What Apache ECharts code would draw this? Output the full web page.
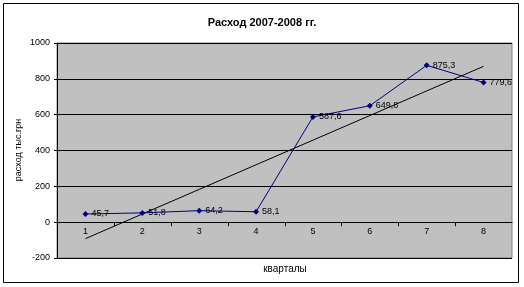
<!DOCTYPE html>
<html><head><meta charset="utf-8">
<script src="https://cdn.jsdelivr.net/npm/echarts@6/dist/echarts.min.js"></script>
<style>html,body{margin:0;padding:0;background:#fff}#c{width:524px;height:287px}</style>
</head><body><div id="c"></div>
<script>
const categories = ['1','2','3','4','5','6','7','8'];
const values = [45.7, 51.8, 64.2, 58.1, 587.6, 649.8, 875.3, 779.6];
const yTicks = [-200, 0, 200, 400, 600, 800, 1000];
const titleText = 'Расход 2007-2008 гг.';
const xName = 'кварталы';
const yName = 'расход тыс.грн';

// linear trendline (least squares) from the data
const n = values.length;
const xs = values.map((_, i) => i + 1);
const mx = xs.reduce((a, b) => a + b, 0) / n;
const my = values.reduce((a, b) => a + b, 0) / n;
let sxy = 0, sxx = 0;
for (let i = 0; i < n; i++) { sxy += (xs[i] - mx) * (values[i] - my); sxx += (xs[i] - mx) ** 2; }
const slope = sxy / sxx, icpt = my - slope * mx;
const trend = xs.map(x => +(icpt + slope * x).toFixed(2));

const font = '"Liberation Sans", Arial, sans-serif';
const chart = echarts.init(document.getElementById('c'));
chart.setOption({
  animation: false,
  title: { text: titleText, left: 'center', top: 12, textStyle: { fontFamily: font, fontSize: 11, fontWeight: 'bold', color: '#000' } },
  grid: { left: 57, right: 12, top: 43, bottom: 29, show: true, backgroundColor: '#C0C0C0', borderColor: '#808080', borderWidth: 1 },
  xAxis: {
    type: 'category', data: categories, boundaryGap: true,
    axisLine: { onZero: true, lineStyle: { color: '#000', width: 1 } },
    axisTick: { show: false },
    axisLabel: { show: false },
    splitLine: { show: false }
  },
  yAxis: {
    type: 'value', min: yTicks[0], max: yTicks[yTicks.length - 1], interval: 200,
    axisLine: { show: true, lineStyle: { color: '#000' } },
    axisTick: { show: true, length: 3, lineStyle: { color: '#000' } },
    axisLabel: { margin: 7, fontFamily: font, fontSize: 9, color: '#000', formatter: v => String(v) },
    splitLine: { show: true, lineStyle: { color: '#000', width: 1 } }
  },
  series: [
    {
      type: 'line', data: values, symbol: 'diamond', symbolSize: 6,
      lineStyle: { color: '#000080', width: 1 }, itemStyle: { color: '#000080' },
      label: { show: true, position: 'right', distance: 3, fontFamily: font, fontSize: 9, color: '#000',
               formatter: p => String(p.value).replace('.', ',') },
      z: 3
    },
    {
      type: 'line', data: trend, symbol: 'none',
      lineStyle: { color: '#000', width: 1 }, z: 2, silent: true
    },
    {
      // category labels and tick marks drawn on the zero line
      type: 'custom', silent: true, z: 4,
      data: categories.map((c, i) => [i, 0]),
      renderItem: (params, api) => {
        const idx = api.value(0);
        const p = api.coord([idx, 0]);
        const w = api.size([1, 0])[0];
        const children = [
          { type: 'text', x: p[0], y: p[1] + 9, style: { text: categories[idx], fontFamily: font, fontSize: 9, fill: '#000', align: 'center', verticalAlign: 'middle' } }
        ];
        if (idx < categories.length - 1) {
          const tx = Math.round(p[0] + w / 2) + 0.5;
          children.push({ type: 'line', shape: { x1: tx, y1: p[1], x2: tx, y2: p[1] + 4 }, style: { stroke: '#000', lineWidth: 1 } });
        }
        return { type: 'group', children };
      }
    }
  ],
  graphic: [
    { type: 'rect', shape: { x: 3.5, y: 3.5, width: 515, height: 279 }, style: { fill: 'none', stroke: '#000', lineWidth: 1 }, z: -1 },
    { type: 'text', x: 285, y: 269, style: { text: xName, fontFamily: font, fontSize: 10, fill: '#000', textAlign: 'center', textVerticalAlign: 'middle' } },
    { type: 'text', x: 19, y: 150, rotation: Math.PI / 2, style: { text: yName, fontFamily: font, fontSize: 9, fill: '#000', textAlign: 'center', textVerticalAlign: 'middle' } }
  ]
});
</script></body></html>
